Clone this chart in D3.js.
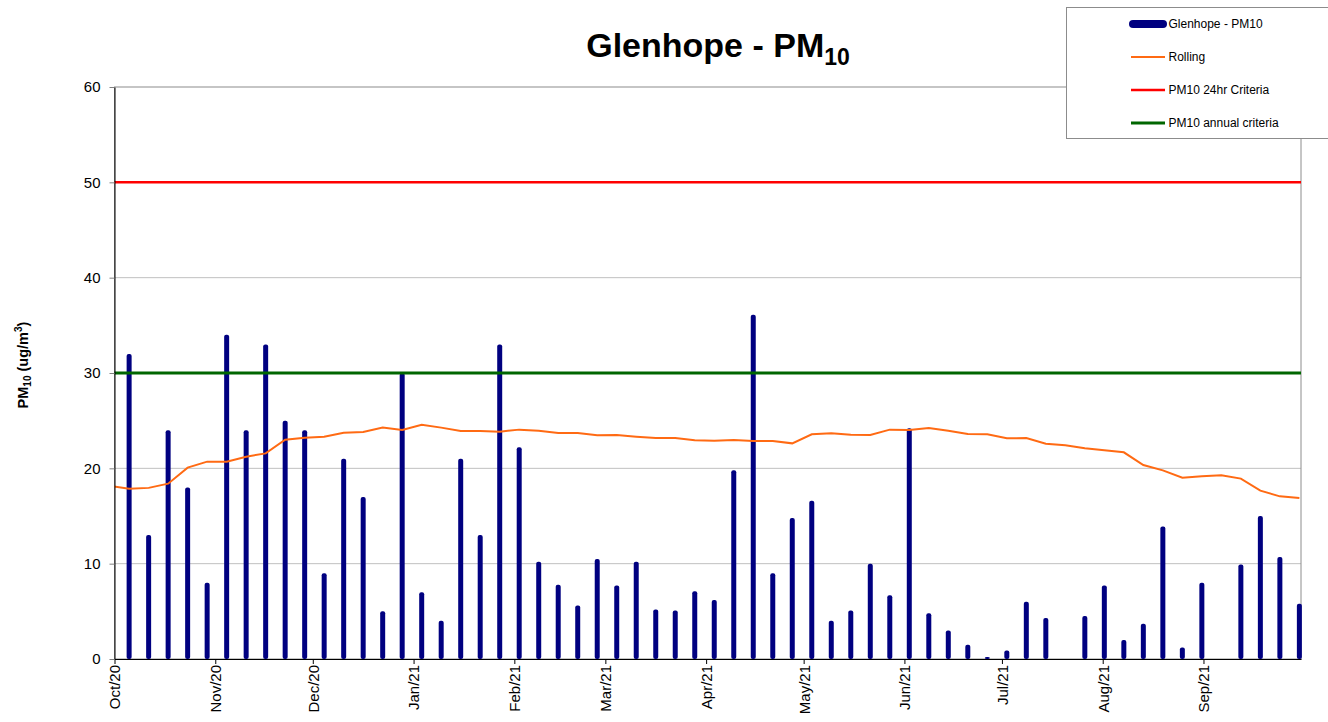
<!DOCTYPE html>
<html>
<head>
<meta charset="utf-8">
<script src="https://cdn.jsdelivr.net/npm/d3@7"></script>
<style>
  body { margin: 0; background: #fff; }
  svg { font-family: Arial, "Liberation Sans", sans-serif; }
</style>
</head>
<body>
<div id="my_dataviz"></div>
<script>
// sample dates (1 in 6 days)
const sampleDates = [
  "2020-10-05", "2020-10-11", "2020-10-17", "2020-10-23", "2020-10-29",
  "2020-11-04", "2020-11-10", "2020-11-16", "2020-11-22", "2020-11-28",
  "2020-12-04", "2020-12-10", "2020-12-16", "2020-12-22", "2020-12-28",
  "2021-01-03", "2021-01-09", "2021-01-15", "2021-01-21", "2021-01-27",
  "2021-02-02", "2021-02-08", "2021-02-14", "2021-02-20", "2021-02-26",
  "2021-03-04", "2021-03-10", "2021-03-16", "2021-03-22", "2021-03-28",
  "2021-04-03", "2021-04-09", "2021-04-15", "2021-04-21", "2021-04-27",
  "2021-05-03", "2021-05-09", "2021-05-15", "2021-05-21", "2021-05-27",
  "2021-06-02", "2021-06-08", "2021-06-14", "2021-06-20", "2021-06-26",
  "2021-07-02", "2021-07-08", "2021-07-14", "2021-07-20", "2021-07-26",
  "2021-08-01", "2021-08-07", "2021-08-13", "2021-08-19", "2021-08-25", "2021-08-31",
  "2021-09-06", "2021-09-12", "2021-09-18", "2021-09-24", "2021-09-30"
];

// PM10 values (null = no sample)
const pm10 = [
  32, 13, 24, 18, 8,
  34, 24, 33, 25, 24,
  9, 21, 17, 5, 30,
  7, 4, 21, 13, 33,
  22.2, 10.2, 7.8, 5.6, 10.5,
  7.7, 10.2, 5.2, 5.1, 7.1,
  6.2, 19.8, 36.1, 9.0, 14.8,
  16.6, 4.0, 5.1, 10.0, 6.7,
  24.2, 4.8, 3.0, 1.5, 0.2,
  0.9, 6.0, 4.3, null, 4.5,
  7.7, 2.0, 3.7, 13.9, 1.2, 8.0,
  null, 9.9, 15.0, 10.7, 5.8
];

// rolling average, includes the previous sample before the axis start
const rollingDates = ["2020-09-29"].concat(sampleDates);
const rolling = [
  18.15,
  17.87, 17.95, 18.39, 20.07, 20.70,
  20.70, 21.22, 21.57, 23.01, 23.22,
  23.32, 23.74, 23.81, 24.27, 24.02,
  24.58, 24.27, 23.92, 23.92, 23.85,
  24.06, 23.95, 23.71, 23.71, 23.46,
  23.50, 23.32, 23.18, 23.18, 22.94,
  22.90, 22.97, 22.87, 22.87, 22.62,
  23.57, 23.67, 23.53, 23.50, 24.06,
  24.02, 24.23, 23.95, 23.60, 23.57,
  23.15, 23.18, 22.59, 22.41, 22.10,
  21.89, 21.68, 20.35, 19.79, 19.02, 19.16,
  19.27, 18.92, 17.66, 17.06, 16.89
];

const criteria24hr = 50;
const criteriaAnnual = 30;

const yTicks = [0, 10, 20, 30, 40, 50, 60];
const monthLabels = ["Oct/20", "Nov/20", "Dec/20", "Jan/21", "Feb/21", "Mar/21",
  "Apr/21", "May/21", "Jun/21", "Jul/21", "Aug/21", "Sep/21"];

const legendItems = ["Glenhope - PM10", "Rolling", "PM10 24hr Criteria", "PM10 annual criteria"];
const colors = {bar: "#000080", rolling: "#ff6a13", c24: "#ff0000", annual: "#006600"};

const margin = {top: 87, right: 27, bottom: 63, left: 114.5},
    W = 1328, H = 722,
    width = W - margin.left - margin.right,
    height = H - margin.top - margin.bottom;

const parse = d3.timeParse("%Y-%m-%d");

const svg0 = d3.select("#my_dataviz")
  .append("svg")
    .attr("width", W)
    .attr("height", H);

const svg = svg0.append("g")
    .attr("transform", `translate(${margin.left},${margin.top})`);

// ---------------------------//
//       AXIS  AND SCALE      //
// ---------------------------//
const x = d3.scaleTime()
  .domain([parse("2020-10-01"), parse("2021-10-01")])
  .range([0, width]);

const y = d3.scaleLinear()
  .domain([0, 60])
  .range([height, 0]);

const halfDay = d => d3.timeHour.offset(d, 12);

svg.append("defs").append("clipPath")
    .attr("id", "plotclip")
  .append("rect")
    .attr("width", width)
    .attr("height", height);

// gridlines
svg.append("g")
  .selectAll("line")
  .data(yTicks.filter(d => d > 0 && d < 60))
  .join("line")
    .attr("x1", 0)
    .attr("x2", width)
    .attr("y1", d => y(d))
    .attr("y2", d => y(d))
    .attr("stroke", "#c0c0c0")
    .attr("stroke-width", 1);

// plot frame
svg.append("rect")
    .attr("width", width)
    .attr("height", height)
    .attr("fill", "none")
    .attr("stroke", "#8c8c8c")
    .attr("stroke-width", 1);

// ---------------------------//
//       BARS                 //
// ---------------------------//
const barData = sampleDates.map((d, i) => ({date: parse(d), value: pm10[i]}))
  .filter(d => d.value !== null);

svg.append("g")
  .selectAll("rect")
  .data(barData)
  .join("rect")
    .attr("x", d => x(halfDay(d.date)) - 2.5)
    .attr("width", 5)
    .attr("y", d => y(d.value))
    .attr("height", d => Math.max(0, y(0) - y(d.value)))
    .attr("rx", 2)
    .attr("fill", colors.bar);

// ---------------------------//
//       LINES                //
// ---------------------------//
const rollData = rollingDates.map((d, i) => ({date: parse(d), value: rolling[i]}));

svg.append("path")
    .datum(rollData)
    .attr("clip-path", "url(#plotclip)")
    .attr("fill", "none")
    .attr("stroke", colors.rolling)
    .attr("stroke-width", 2)
    .attr("d", d3.line()
      .x(d => x(halfDay(d.date)))
      .y(d => y(d.value)));

svg.append("line")
    .attr("x1", 0).attr("x2", width)
    .attr("y1", y(criteria24hr)).attr("y2", y(criteria24hr))
    .attr("stroke", colors.c24)
    .attr("stroke-width", 2.5);

svg.append("line")
    .attr("x1", 0).attr("x2", width)
    .attr("y1", y(criteriaAnnual)).attr("y2", y(criteriaAnnual))
    .attr("stroke", colors.annual)
    .attr("stroke-width", 3);

// axes
const monthStarts = d3.timeMonth.range(parse("2020-10-01"), parse("2021-10-01"));

svg.append("g")
    .attr("transform", `translate(0,${height})`)
    .call(d3.axisBottom(x)
      .tickValues(monthStarts)
      .tickSize(5)
      .tickSizeOuter(0)
      .tickFormat((d, i) => monthLabels[i]))
    .call(g => g.select(".domain").attr("stroke", "#000"))
    .call(g => g.selectAll("text")
      .attr("transform", "rotate(-90)")
      .attr("text-anchor", "end")
      .attr("x", -6)
      .attr("y", 0)
      .attr("dy", "0.36em")
      .style("font-size", "15px")
      .attr("fill", "#000"));

svg.append("g")
    .call(d3.axisLeft(y)
      .tickValues(yTicks)
      .tickSize(5)
      .tickPadding(9)
      .tickSizeOuter(0))
    .call(g => g.select(".domain").attr("stroke", "#000"))
    .call(g => g.selectAll(".tick line").attr("stroke", "#808080"))
    .call(g => g.selectAll("text").style("font-size", "15px").attr("fill", "#000"));

// ---------------------------//
//       TITLES               //
// ---------------------------//
const title = svg0.append("text")
    .attr("x", 718)
    .attr("y", 57)
    .attr("text-anchor", "middle")
    .style("font-size", "34px")
    .style("font-weight", "bold");
title.append("tspan").text("Glenhope - PM");
title.append("tspan").attr("dy", 8).style("font-size", "23px").text("10");

const ytitle = svg0.append("text")
    .attr("transform", "translate(28,365) rotate(-90)")
    .attr("text-anchor", "middle")
    .style("font-size", "14.5px")
    .style("font-weight", "bold");
ytitle.append("tspan").text("PM");
ytitle.append("tspan").attr("dy", 3).style("font-size", "10px").text("10");
ytitle.append("tspan").attr("dy", -3).text(" (ug/m");
ytitle.append("tspan").attr("dy", -6).style("font-size", "10px").text("3");
ytitle.append("tspan").attr("dy", 6).text(")");

// ---------------------------//
//       LEGEND               //
// ---------------------------//
const legend = svg0.append("g");
legend.append("rect")
    .attr("x", 1066.5)
    .attr("y", 7.5)
    .attr("width", 300)
    .attr("height", 131)
    .attr("fill", "#fff")
    .attr("stroke", "#8c8c8c");

const legendColor = [colors.bar, colors.rolling, colors.c24, colors.annual];
const legendWidth = [8, 2, 2.5, 3];
const rowY = i => 24 + i * 33;

legend.selectAll("line.sym")
  .data(legendItems)
  .join("line")
    .attr("class", "sym")
    .attr("x1", (d, i) => i === 0 ? 1133 : 1131)
    .attr("x2", (d, i) => i === 0 ? 1163 : 1165)
    .attr("y1", (d, i) => rowY(i))
    .attr("y2", (d, i) => rowY(i))
    .attr("stroke", (d, i) => legendColor[i])
    .attr("stroke-width", (d, i) => legendWidth[i])
    .attr("stroke-linecap", (d, i) => i === 0 ? "round" : "butt");

legend.selectAll("text")
  .data(legendItems)
  .join("text")
    .attr("x", 1168.5)
    .attr("y", (d, i) => rowY(i))
    .attr("dy", "0.35em")
    .style("font-size", "12px")
    .text(d => d);
</script>
</body>
</html>
